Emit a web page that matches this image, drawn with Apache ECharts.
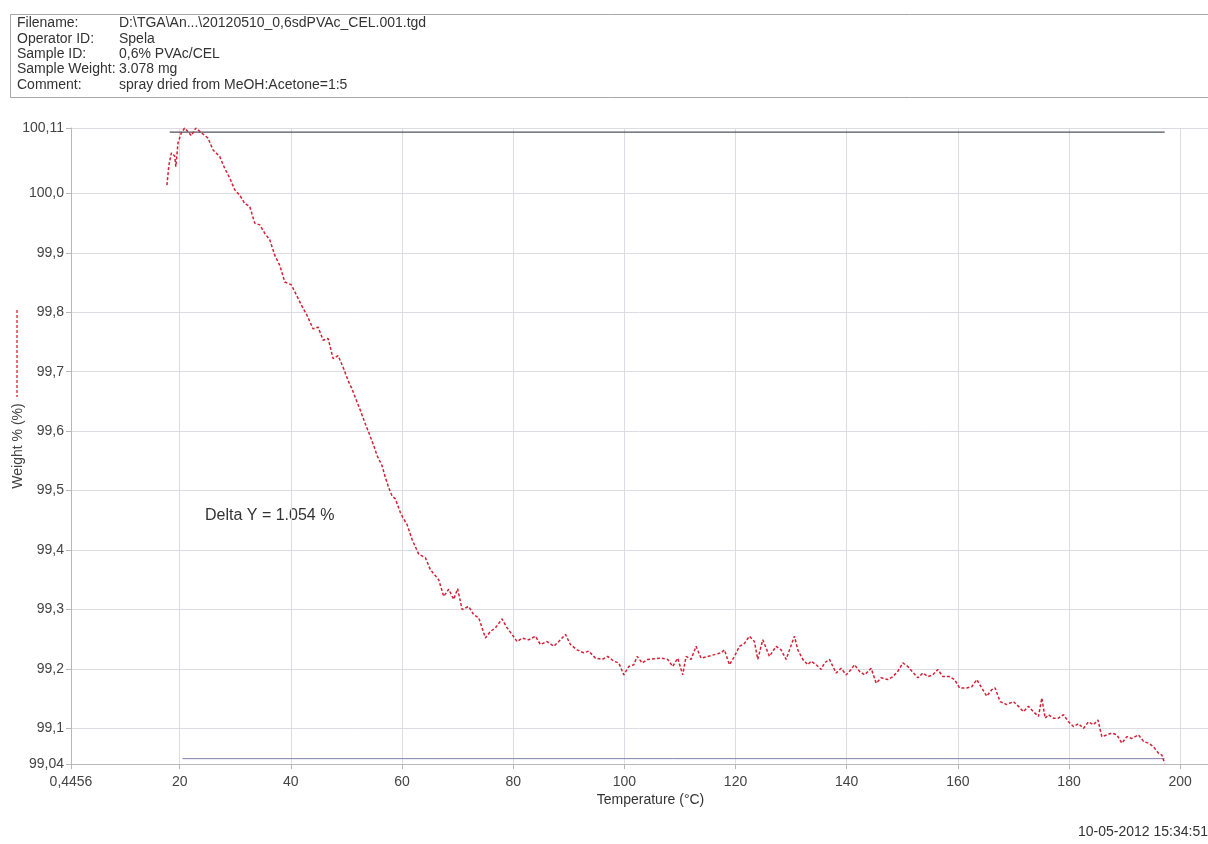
<!DOCTYPE html>
<html>
<head>
<meta charset="utf-8">
<script src="https://cdn.jsdelivr.net/npm/echarts@6/dist/echarts.min.js"></script>
<style>
  html, body { margin: 0; padding: 0; background: #fff; }
  #chart { width: 1208px; height: 844px; }
</style>
</head>
<body>
<div id="chart"></div>
<script>
// header block
var headerKeys = ['Filename:', 'Operator ID:', 'Sample ID:', 'Sample Weight:', 'Comment:'];
var headerValues = ['D:\\TGA\\An...\\20120510_0,6sdPVAc_CEL.001.tgd', 'Spela', '0,6% PVAc/CEL', '3.078 mg', 'spray dried from MeOH:Acetone=1:5'];
var stamp = '10-05-2012 15:34:51';
var deltaText = 'Delta Y = 1.054 %';

// axes
var xMin = 0.4456, xMax = 205;
var xTicks = [0.4456, 20, 40, 60, 80, 100, 120, 140, 160, 180, 200];
var xTickLabels = ['0,4456', '20', '40', '60', '80', '100', '120', '140', '160', '180', '200'];
var yMin = 99.04, yMax = 100.11;
var yTicks = [99.04, 99.1, 99.2, 99.3, 99.4, 99.5, 99.6, 99.7, 99.8, 99.9, 100.0, 100.11];
var yTickLabels = ['99,04', '99,1', '99,2', '99,3', '99,4', '99,5', '99,6', '99,7', '99,8', '99,9', '100,0', '100,11'];

// TGA curve
var temp = [17.7, 18.07, 18.5, 19.1, 19.3, 19.7, 20.3, 20.9, 22.1, 22.9, 23.9, 25.1, 26.0, 27.2, 28.1, 29.0, 29.9, 30.8, 31.7, 32.6,
  33.5, 34.4, 35.3, 36.2, 37.1, 38.0, 38.9, 40.1, 41.0, 41.9, 42.9, 44.0, 44.9, 45.8, 46.7, 47.6, 48.5, 49.5, 50.3, 51.0,
  51.9, 52.5, 53.4, 54.0, 54.9, 55.5, 56.4, 57.0, 57.6, 58.2, 58.8, 59.7, 60.3, 60.9, 61.8, 63.0, 64.2, 65.1, 66.6, 67.5,
  68.4, 69.3, 70.0, 70.8, 72.0, 72.9, 73.8, 74.4, 75.0, 75.9, 76.8, 78.0, 78.9, 79.8, 80.7, 81.6, 82.8, 84.0, 84.9, 86.1,
  87.3, 88.2, 89.4, 90.3, 91.5, 92.7, 93.6, 94.8, 96.0, 97.0, 98.1, 99.0, 99.9, 100.8, 101.7, 102.3, 103.2, 104.2, 105.4, 106.6,
  107.8, 108.7, 109.6, 110.5, 111.1, 112.0, 112.9, 113.8, 115.0, 116.2, 117.4, 118.0, 118.9, 119.8, 120.7, 121.6, 122.5, 123.4, 124.0, 124.9,
  126.1, 127.3, 128.2, 129.1, 130.6, 131.2, 132.1, 133.0, 133.6, 134.5, 135.4, 136.0, 136.9, 138.1, 139.0, 139.9, 140.8, 141.4, 142.3, 143.2,
  144.4, 145.3, 146.2, 147.4, 148.3, 149.2, 150.1, 151.0, 152.8, 153.7, 154.6, 155.5, 156.4, 157.3, 158.5, 159.4, 160.3, 161.6, 162.5, 163.4,
  165.2, 166.1, 166.7, 167.6, 168.8, 170.0, 170.9, 171.8, 172.7, 173.6, 174.5, 175.1, 175.7, 176.3, 177.2, 178.1, 179.0, 179.9, 180.8, 181.7,
  182.6, 183.5, 184.4, 185.2, 185.9, 186.8, 187.7, 188.6, 189.5, 190.4, 191.3, 192.5, 193.4, 194.3, 195.2, 196.1, 196.7, 197.2];
var weight = [100.014, 100.048, 100.068, 100.063, 100.045, 100.085, 100.102, 100.11, 100.097, 100.11, 100.102, 100.093, 100.073, 100.062, 100.042, 100.026, 100.006, 99.997, 99.983, 99.978,
  99.950, 99.947, 99.933, 99.922, 99.896, 99.879, 99.851, 99.846, 99.829, 99.812, 99.795, 99.772, 99.775, 99.753, 99.756, 99.722, 99.727, 99.705, 99.685, 99.671,
  99.649, 99.635, 99.612, 99.598, 99.576, 99.559, 99.542, 99.522, 99.505, 99.491, 99.486, 99.463, 99.452, 99.443, 99.418, 99.393, 99.387, 99.367, 99.350, 99.322,
  99.334, 99.317, 99.335, 99.300, 99.305, 99.291, 99.286, 99.269, 99.252, 99.263, 99.269, 99.284, 99.269, 99.258, 99.246, 99.252, 99.249, 99.255, 99.241, 99.246,
  99.238, 99.246, 99.258, 99.241, 99.232, 99.227, 99.230, 99.218, 99.216, 99.221, 99.213, 99.210, 99.190, 99.204, 99.207, 99.221, 99.210, 99.216, 99.217, 99.218,
  99.216, 99.204, 99.218, 99.190, 99.221, 99.216, 99.238, 99.218, 99.221, 99.224, 99.227, 99.232, 99.207, 99.221, 99.238, 99.243, 99.255, 99.246, 99.216, 99.249,
  99.221, 99.238, 99.232, 99.216, 99.255, 99.232, 99.216, 99.207, 99.213, 99.207, 99.199, 99.210, 99.216, 99.193, 99.201, 99.190, 99.199, 99.207, 99.196, 99.190,
  99.201, 99.176, 99.185, 99.182, 99.187, 99.196, 99.210, 99.204, 99.185, 99.193, 99.187, 99.190, 99.199, 99.187, 99.187, 99.182, 99.168, 99.168, 99.170, 99.182,
  99.154, 99.165, 99.168, 99.145, 99.140, 99.145, 99.137, 99.128, 99.137, 99.128, 99.120, 99.151, 99.117, 99.123, 99.117, 99.117, 99.123, 99.111, 99.103, 99.108,
  99.100, 99.111, 99.106, 99.114, 99.086, 99.089, 99.092, 99.089, 99.075, 99.086, 99.083, 99.089, 99.078, 99.075, 99.069, 99.058, 99.055, 99.041];

// delta Y reference lines
var topMarkT = [18.2, 197.2], topMarkW = 100.103;
var botMarkT = [20.5, 197.2], botMarkW = 99.049;

var curve = temp.map(function (t, i) { return [t, weight[i]]; });
var topLine = topMarkT.map(function (t) { return [t, topMarkW]; });
var botLine = botMarkT.map(function (t) { return [t, botMarkW]; });

function pick(ticks, labels) {
  return function (v) {
    for (var i = 0; i < ticks.length; i++) {
      if (Math.abs(ticks[i] - v) < 1e-6) return labels[i];
    }
    return '';
  };
}

var fontFam = 'Liberation Sans, Arial, sans-serif';
var headerGraphics = [{
  type: 'rect',
  shape: { x: 10.5, y: 14.5, width: 1215, height: 83 },
  style: { fill: null, stroke: '#a8a8a8', lineWidth: 1 }
}];
for (var i = 0; i < headerKeys.length; i++) {
  var yy = 23.5 + i * 15.3;
  headerGraphics.push({ type: 'text', x: 17, y: yy, style: { text: headerKeys[i], fill: '#333', font: '14px ' + fontFam, textVerticalAlign: 'middle' } });
  headerGraphics.push({ type: 'text', x: 119, y: yy, style: { text: headerValues[i], fill: '#333', font: '14px ' + fontFam, textVerticalAlign: 'middle' } });
}

var myChart = echarts.init(document.getElementById('chart'));
var option = {
  animation: false,
  backgroundColor: '#fff',
  grid: { left: 71, right: 0, top: 128, bottom: 80, containLabel: false, outerBoundsMode: 'none' },
  xAxis: {
    type: 'value', min: xMin, max: xMax,
    name: 'Temperature (°C)', nameLocation: 'middle', nameGap: 29, nameMoveOverlap: false,
    nameTextStyle: { fontSize: 14, color: '#333', fontFamily: fontFam, padding: [0, 0, 0, 22] },
    axisLine: { show: true, lineStyle: { color: '#b8b8b8' } },
    axisTick: { show: true, length: 5, lineStyle: { color: '#b8b8b8' }, customValues: xTicks },
    axisLabel: { customValues: xTicks, formatter: pick(xTicks, xTickLabels), fontSize: 14, color: '#444', fontFamily: fontFam, margin: 11 },
    splitLine: { show: true, lineStyle: { color: '#dcdce2' } }
  },
  yAxis: {
    type: 'value', min: yMin, max: yMax,
    name: 'Weight % (%)', nameLocation: 'middle', nameGap: 46, nameMoveOverlap: false,
    nameTextStyle: { fontSize: 14, color: '#444', fontFamily: fontFam },
    axisLine: { show: true, lineStyle: { color: '#b8b8b8' } },
    axisTick: { show: true, length: 5, lineStyle: { color: '#b8b8b8' }, customValues: yTicks },
    axisLabel: { customValues: yTicks, formatter: pick(yTicks, yTickLabels), fontSize: 14, color: '#444', fontFamily: fontFam, margin: 7 },
    splitLine: { show: true, lineStyle: { color: '#dcdce2' } }
  },
  graphic: headerGraphics.concat([
    { type: 'line', shape: { x1: 17, y1: 310, x2: 17, y2: 397 }, style: { stroke: '#d42035', lineWidth: 1.3, lineDash: [3, 2] } },
    { type: 'text', x: 205, y: 516, style: { text: deltaText, fill: '#333', font: '16px ' + fontFam, textVerticalAlign: 'middle' } },
    { type: 'text', x: 1078, y: 832, style: { text: stamp, fill: '#333', font: '14px ' + fontFam, textVerticalAlign: 'middle' } }
  ]),
  series: [
    {
      type: 'line', data: topLine, showSymbol: false, silent: true,
      lineStyle: { color: '#4e5060', width: 1.2 }
    },
    {
      type: 'line', data: botLine, showSymbol: false, silent: true,
      lineStyle: { color: '#7d82a8', width: 1 }
    },
    {
      type: 'line', data: curve, showSymbol: false,
      lineStyle: { color: '#d42035', width: 1.5, type: [3, 2] }
    }
  ]
};
myChart.setOption(option);
</script>
</body>
</html>
